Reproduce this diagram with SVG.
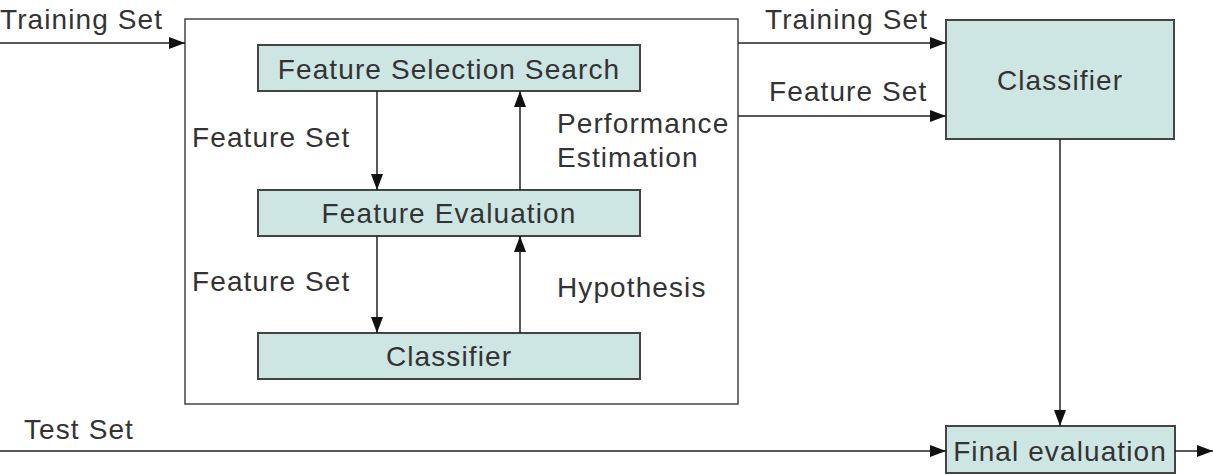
<svg xmlns="http://www.w3.org/2000/svg" width="1213" height="475" viewBox="0 0 1213 475">
<style>
.b{fill:#cde5e3;stroke:#444;stroke-width:2}
.c{fill:none;stroke:#222;stroke-width:1.5}
text{font-family:"Liberation Sans",Arial,sans-serif;font-size:28px;letter-spacing:1.1px;fill:#333}
.m{text-anchor:middle}
</style>
<defs><marker id="a" markerWidth="16" markerHeight="12" refX="16" refY="6" orient="auto" markerUnits="userSpaceOnUse"><path d="M0,0L16,6L0,12z" fill="#111"/></marker></defs>
<rect width="1213" height="475" fill="#fff"/>
<g id="outer"><rect x="185" y="19" width="553" height="385" fill="#fff" stroke="#444" stroke-width="1.5"/></g>
<g id="fss"><rect class="b" x="258" y="45" width="382" height="46"/><text class="m" x="449" y="79">Feature Selection Search</text></g>
<g id="fe"><rect class="b" x="258" y="190" width="382" height="46"/><text class="m" x="449" y="223">Feature Evaluation</text></g>
<g id="cl1"><rect class="b" x="258" y="333" width="382" height="46"/><text class="m" x="449" y="366">Classifier</text></g>
<g id="cl2"><rect class="b" x="946" y="20" width="228" height="119"/><text class="m" x="1060" y="90">Classifier</text></g>
<g id="fin"><rect class="b" x="946" y="426" width="229" height="47"/><text class="m" x="1060" y="461">Final evaluation</text></g>
<g id="connectors">
<path class="c" d="M0,43H185" marker-end="url(#a)"/>
<path class="c" d="M377,91V190" marker-end="url(#a)"/>
<path class="c" d="M520,190V91" marker-end="url(#a)"/>
<path class="c" d="M377,236V333" marker-end="url(#a)"/>
<path class="c" d="M520,333V236" marker-end="url(#a)"/>
<path class="c" d="M738,43H946" marker-end="url(#a)"/>
<path class="c" d="M738,116H946" marker-end="url(#a)"/>
<path class="c" d="M1060,139V426" marker-end="url(#a)"/>
<path class="c" d="M0,451H946" marker-end="url(#a)"/>
<path class="c" d="M1175,451H1213" marker-end="url(#a)"/>
</g>
<text x="0" y="29">Training Set</text>
<text x="765" y="29">Training Set</text>
<text x="769" y="101">Feature Set</text>
<text x="192" y="147">Feature Set</text>
<text x="192" y="291">Feature Set</text>
<text x="557" y="133">Performance</text>
<text x="557" y="167">Estimation</text>
<text x="557" y="297">Hypothesis</text>
<text x="24" y="439">Test Set</text>
</svg>
